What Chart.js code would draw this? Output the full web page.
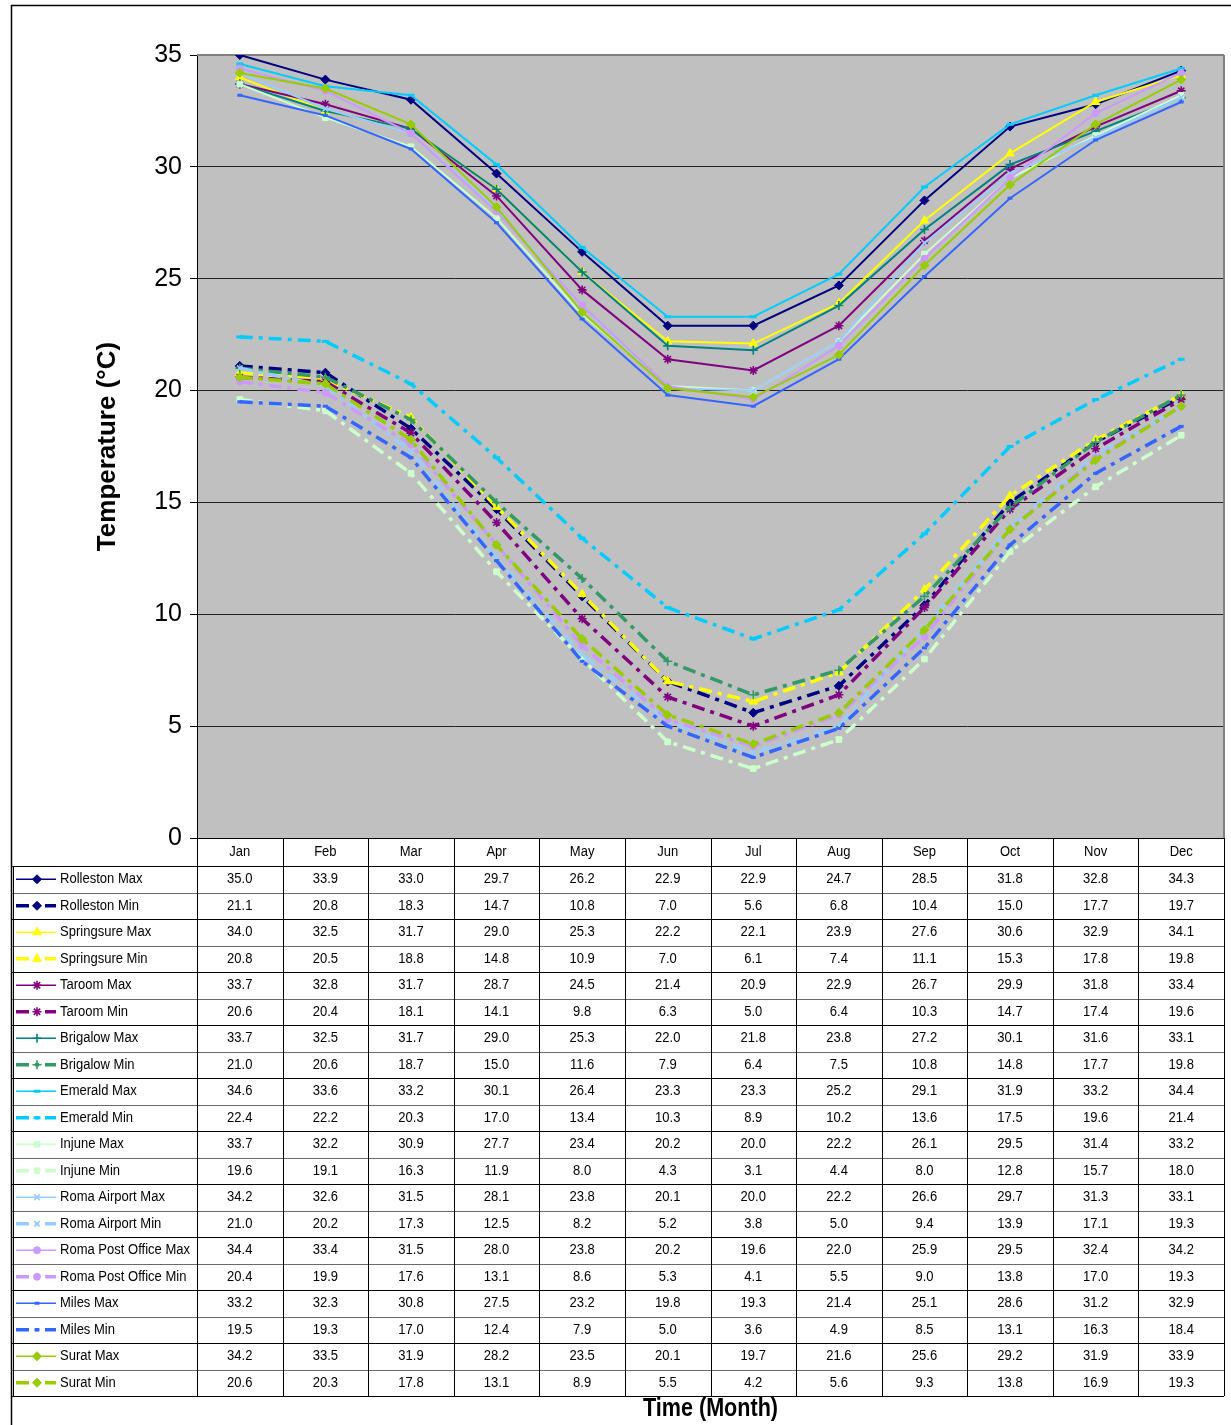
<!DOCTYPE html>
<html>
<head>
<meta charset="utf-8">
<title>Temperature</title>
<script src="https://cdn.jsdelivr.net/npm/chart.js@4/dist/chart.umd.min.js"></script>
<style>
  html, body { margin: 0; padding: 0; background: #fff; }
  canvas { display: block; }
</style>
</head>
<body>
<canvas id="tempChart" width="1231" height="1425"></canvas>
<script>
const months = ['Jan', 'Feb', 'Mar', 'Apr', 'May', 'Jun', 'Jul', 'Aug', 'Sep', 'Oct', 'Nov', 'Dec'];
const yTicks = [0, 5, 10, 15, 20, 25, 30, 35];

const rollestonMax = [35.0, 33.9, 33.0, 29.7, 26.2, 22.9, 22.9, 24.7, 28.5, 31.8, 32.8, 34.3];
const rollestonMin = [21.1, 20.8, 18.3, 14.7, 10.8, 7.0, 5.6, 6.8, 10.4, 15.0, 17.7, 19.7];
const springsureMax = [34.0, 32.5, 31.7, 29.0, 25.3, 22.2, 22.1, 23.9, 27.6, 30.6, 32.9, 34.1];
const springsureMin = [20.8, 20.5, 18.8, 14.8, 10.9, 7.0, 6.1, 7.4, 11.1, 15.3, 17.8, 19.8];
const taroomMax = [33.7, 32.8, 31.7, 28.7, 24.5, 21.4, 20.9, 22.9, 26.7, 29.9, 31.8, 33.4];
const taroomMin = [20.6, 20.4, 18.1, 14.1, 9.8, 6.3, 5.0, 6.4, 10.3, 14.7, 17.4, 19.6];
const brigalowMax = [33.7, 32.5, 31.7, 29.0, 25.3, 22.0, 21.8, 23.8, 27.2, 30.1, 31.6, 33.1];
const brigalowMin = [21.0, 20.6, 18.7, 15.0, 11.6, 7.9, 6.4, 7.5, 10.8, 14.8, 17.7, 19.8];
const emeraldMax = [34.6, 33.6, 33.2, 30.1, 26.4, 23.3, 23.3, 25.2, 29.1, 31.9, 33.2, 34.4];
const emeraldMin = [22.4, 22.2, 20.3, 17.0, 13.4, 10.3, 8.9, 10.2, 13.6, 17.5, 19.6, 21.4];
const injuneMax = [33.7, 32.2, 30.9, 27.7, 23.4, 20.2, 20.0, 22.2, 26.1, 29.5, 31.4, 33.2];
const injuneMin = [19.6, 19.1, 16.3, 11.9, 8.0, 4.3, 3.1, 4.4, 8.0, 12.8, 15.7, 18.0];
const romaAirportMax = [34.2, 32.6, 31.5, 28.1, 23.8, 20.1, 20.0, 22.2, 26.6, 29.7, 31.3, 33.1];
const romaAirportMin = [21.0, 20.2, 17.3, 12.5, 8.2, 5.2, 3.8, 5.0, 9.4, 13.9, 17.1, 19.3];
const romaPostMax = [34.4, 33.4, 31.5, 28.0, 23.8, 20.2, 19.6, 22.0, 25.9, 29.5, 32.4, 34.2];
const romaPostMin = [20.4, 19.9, 17.6, 13.1, 8.6, 5.3, 4.1, 5.5, 9.0, 13.8, 17.0, 19.3];
const milesMax = [33.2, 32.3, 30.8, 27.5, 23.2, 19.8, 19.3, 21.4, 25.1, 28.6, 31.2, 32.9];
const milesMin = [19.5, 19.3, 17.0, 12.4, 7.9, 5.0, 3.6, 4.9, 8.5, 13.1, 16.3, 18.4];
const suratMax = [34.2, 33.5, 31.9, 28.2, 23.5, 20.1, 19.7, 21.6, 25.6, 29.2, 31.9, 33.9];
const suratMin = [20.6, 20.3, 17.8, 13.1, 8.9, 5.5, 4.2, 5.6, 9.3, 13.8, 16.9, 19.3];

const seriesNames = [
  'Rolleston Max', 'Rolleston Min', 'Springsure Max', 'Springsure Min',
  'Taroom Max', 'Taroom Min', 'Brigalow Max', 'Brigalow Min',
  'Emerald Max', 'Emerald Min', 'Injune Max', 'Injune Min',
  'Roma Airport Max', 'Roma Airport Min', 'Roma Post Office Max', 'Roma Post Office Min',
  'Miles Max', 'Miles Min', 'Surat Max', 'Surat Min'
];
const seriesData = [
  rollestonMax, rollestonMin, springsureMax, springsureMin,
  taroomMax, taroomMin, brigalowMax, brigalowMin,
  emeraldMax, emeraldMin, injuneMax, injuneMin,
  romaAirportMax, romaAirportMin, romaPostMax, romaPostMin,
  milesMax, milesMin, suratMax, suratMin
];

// styles, one per series (odd index = Min series, drawn thick and dash-dot)
const lineColors = [
  '#000080', '#000080', '#FFFF00', '#FFFF00', '#800080', '#800080', '#008080', '#339966',
  '#00CCFF', '#00CCFF', '#CCFFCC', '#CCFFCC', '#99CCFF', '#99CCFF', '#CC99FF', '#CC99FF',
  '#3366FF', '#3366FF', '#99CC00', '#99CC00'
];
const markerStyles = ['rectRot', 'triangle', 'star', 'cross', 'line', 'rect', 'crossRot', 'circle', 'line', 'rectRot'];
const markerSizes = [4.5, 5, 4.5, 4.5, 3.5, 4, 4, 3.5, 2.5, 4.5];
const strokeOnly = ['star', 'cross', 'crossRot', 'line'];
const minDash = [13, 6, 4, 6];

function styleFor(i) {
  const station = Math.floor(i / 2);
  const ps = markerStyles[station];
  return {
    color: lineColors[i],
    isMin: i % 2 === 1,
    pointStyle: ps,
    radius: markerSizes[station],
    pointBorder: strokeOnly.includes(ps) ? (ps === 'line' ? 3 : 1.6) : 1
  };
}

const fontFamily = '"Liberation Sans", Arial, sans-serif';

function hline(ctx, x1, x2, y) {
  ctx.beginPath(); ctx.moveTo(x1, y); ctx.lineTo(x2, y); ctx.stroke();
}
function vline(ctx, x, y1, y2) {
  ctx.beginPath(); ctx.moveTo(x, y1); ctx.lineTo(x, y2); ctx.stroke();
}
function squeezedText(ctx, txt, x, y, align, sx) {
  ctx.save();
  ctx.translate(x, y);
  ctx.scale(sx, 1);
  ctx.textAlign = align;
  ctx.fillText(txt, 0, 0);
  ctx.restore();
}

const tablePlugin = {
  id: 'dataTable',
  beforeDraw(chart) {
    const { ctx, chartArea: a } = chart;
    ctx.save();
    ctx.fillStyle = '#fff';
    ctx.fillRect(0, 0, chart.width, chart.height);
    ctx.fillStyle = '#C0C0C0';
    ctx.fillRect(a.left, a.top, a.right - a.left, a.bottom - a.top);
    ctx.restore();
  },
  beforeDatasetsDraw(chart) {
    const { ctx, chartArea: a } = chart;
    ctx.save();
    ctx.strokeStyle = '#808080';
    ctx.lineWidth = 2;
    hline(ctx, a.left, a.right, a.top);
    vline(ctx, a.right, a.top, a.bottom);
    ctx.restore();
  },
  afterDraw(chart) {
    const { ctx, chartArea: a, scales } = chart;
    const x = scales.x;
    const colW = (a.right - a.left) / months.length;
    const headBottom = a.bottom + 28;
    const rowH = 26.5;
    const tableLeft = 12;
    const tableBottom = headBottom + rowH * seriesNames.length;

    ctx.save();
    // outer frame
    ctx.strokeStyle = '#000';
    ctx.lineWidth = 1.5;
    hline(ctx, tableLeft - 1, chart.width, 5.5);
    vline(ctx, tableLeft - 0.5, 5, chart.height);

    // table grid
    ctx.lineWidth = 1;
    for (let r = 0; r <= seriesNames.length; r++) {
      const y = Math.round(headBottom + r * rowH) + 0.5;
      ctx.strokeStyle = (r % 2 === 1 && r < seriesNames.length) ? '#6a6a6a' : '#000';
      hline(ctx, tableLeft, a.right, y);
    }
    ctx.strokeStyle = '#000';
    hline(ctx, a.left, a.right, Math.round(a.bottom) + 0.5);
    for (let c = 0; c <= months.length; c++) {
      const xx = Math.round(a.left + c * colW) + 0.5;
      vline(ctx, xx, a.bottom, tableBottom);
    }
    vline(ctx, tableLeft + 1.5, headBottom, tableBottom);

    ctx.fillStyle = '#000';
    ctx.font = '14px ' + fontFamily;
    ctx.textBaseline = 'middle';
    months.forEach((m, c) => {
      squeezedText(ctx, m, x.getPixelForValue(c), a.bottom + 14, 'center', 0.93);
    });

    seriesNames.forEach((name, r) => {
      const cy = headBottom + r * rowH + rowH / 2;
      const st = styleFor(r);
      // legend key
      ctx.save();
      ctx.strokeStyle = st.color;
      ctx.fillStyle = st.color;
      ctx.lineWidth = st.isMin ? 3.5 : 1.5;
      ctx.lineCap = 'butt';
      if (st.isMin) ctx.setLineDash(minDash);
      hline(ctx, 16, 56, cy);
      ctx.setLineDash([]);
      ctx.lineWidth = st.pointBorder;
      if (Chart.helpers && Chart.helpers.drawPoint) {
        Chart.helpers.drawPoint(ctx, {
          pointStyle: st.pointStyle, radius: st.radius, rotation: 0, borderWidth: st.pointBorder
        }, 37, cy);
      } else {
        ctx.beginPath(); ctx.arc(37, cy, st.radius, 0, Math.PI * 2); ctx.fill();
      }
      ctx.restore();

      ctx.fillStyle = '#000';
      squeezedText(ctx, name, 60, cy, 'left', 0.93);
      seriesData[r].forEach((v, c) => {
        squeezedText(ctx, v.toFixed(1), x.getPixelForValue(c), cy, 'center', 0.93);
      });
    });

    // x axis title
    ctx.font = 'bold 26px ' + fontFamily;
    squeezedText(ctx, 'Time (Month)', (a.left + a.right) / 2, tableBottom + 13, 'center', 0.83);
    ctx.restore();
  }
};

const datasets = seriesNames.map((name, i) => {
  const st = styleFor(i);
  return {
    label: name,
    data: seriesData[i],
    borderColor: st.color,
    backgroundColor: st.color,
    borderWidth: st.isMin ? 3.5 : 2,
    borderDash: st.isMin ? minDash : [],
    borderCapStyle: 'butt',
    pointStyle: st.pointStyle,
    pointRadius: st.radius,
    pointBorderWidth: st.pointBorder,
    pointBackgroundColor: st.color,
    pointBorderColor: st.color,
    tension: 0,
    fill: false,
    order: seriesNames.length - i
  };
});

Chart.defaults.font.family = fontFamily;
Chart.defaults.color = '#000';

new Chart(document.getElementById('tempChart'), {
  type: 'line',
  data: { labels: months, datasets: datasets },
  options: {
    responsive: false,
    animation: false,
    events: [],
    layout: { padding: { left: 14, right: 6, top: 55, bottom: 587 } },
    plugins: {
      legend: { display: false },
      tooltip: { enabled: false }
    },
    scales: {
      x: {
        type: 'category',
        offset: true,
        display: false
      },
      y: {
        min: 0,
        max: 35,
        afterBuildTicks(scale) {
          scale.ticks = yTicks.map(v => ({ value: v }));
        },
        afterFit(scale) {
          scale.width = 183;
        },
        ticks: {
          font: { size: 25 },
          color: '#000',
          padding: 8
        },
        grid: {
          color: '#222',
          lineWidth: 1,
          drawTicks: true,
          tickLength: 7,
          tickColor: '#000'
        },
        border: { display: true, color: '#000', width: 1 },
        title: {
          display: true,
          text: 'Temperature (°C)',
          color: '#000',
          font: { size: 26, weight: 'bold' },
          padding: { top: 78, bottom: 0 }
        }
      }
    }
  },
  plugins: [tablePlugin]
});
</script>
</body>
</html>
